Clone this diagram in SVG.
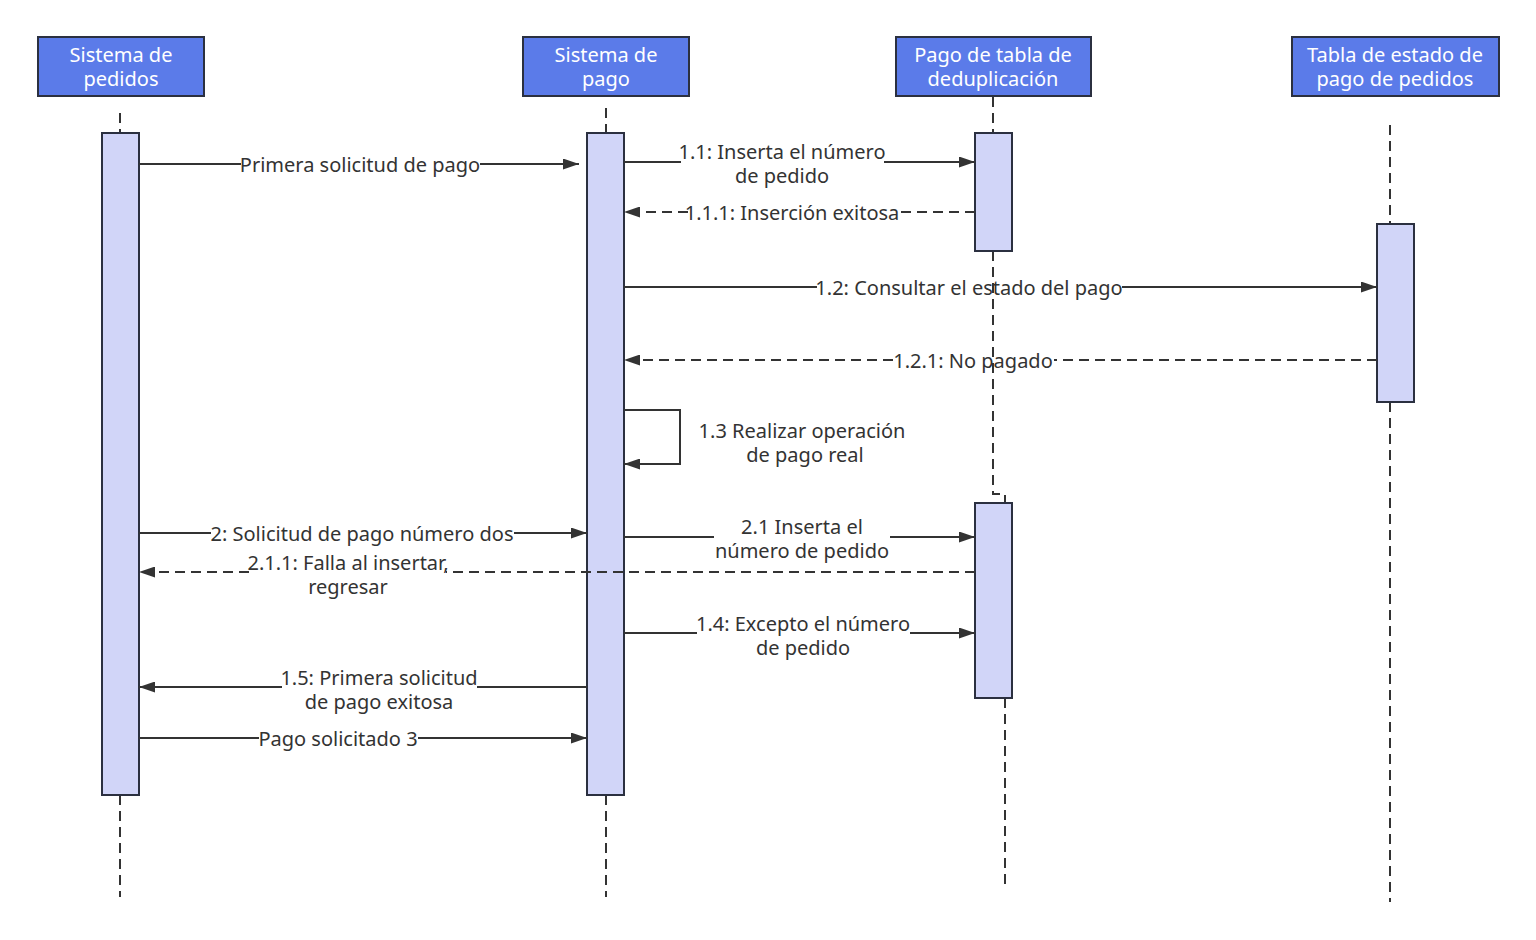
<svg xmlns="http://www.w3.org/2000/svg" width="1536" height="940" viewBox="0 0 1536 940">
<style>
.hdr{fill:#5b7be9;stroke:#2b3040;stroke-width:2}
.ht{fill:#ffffff;font-family:"Noto Sans","Liberation Sans",sans-serif;font-size:20px;text-anchor:middle}
.life{stroke:#333;stroke-width:2;stroke-dasharray:10,6;fill:none}
.act{fill:#d1d5f8;stroke:#2b3040;stroke-width:2}
.msg{stroke:#333;stroke-width:2;fill:none}
.ret{stroke:#333;stroke-width:2;fill:none;stroke-dasharray:10,6}
.lb{fill:#333;font-family:"Noto Sans","Liberation Sans",sans-serif;font-size:20px;text-anchor:middle}
</style>
<defs>
<marker id="ah" viewBox="0 0 16 11" refX="16" refY="5.5" markerWidth="16" markerHeight="11" markerUnits="userSpaceOnUse" orient="auto">
<path d="M0,0 L16,5.5 L0,11 Z" fill="#333"/>
</marker>
</defs>
<rect width="1536" height="940" fill="#ffffff"/>

<g id="pedidos">
<rect class="hdr" x="38" y="37" width="166" height="59"/>
<text class="ht" x="121" y="62">Sistema de</text>
<text class="ht" x="121" y="86">pedidos</text>
<line class="life" x1="120" y1="113" x2="120" y2="133"/>
<line class="life" x1="120" y1="795" x2="120" y2="897"/>
<rect class="act" x="102" y="133" width="37" height="662"/>
</g>

<g id="pago">
<rect class="hdr" x="523" y="37" width="166" height="59"/>
<text class="ht" x="606" y="62">Sistema de</text>
<text class="ht" x="606" y="86">pago</text>
<line class="life" x1="606" y1="108" x2="606" y2="133"/>
<line class="life" x1="606" y1="795" x2="606" y2="897"/>
<rect class="act" x="587" y="133" width="37" height="662"/>
</g>

<g id="dedup">
<rect class="hdr" x="896" y="37" width="195" height="59"/>
<text class="ht" x="993" y="62">Pago de tabla de</text>
<text class="ht" x="993" y="86">deduplicación</text>
<line class="life" x1="993" y1="97" x2="993" y2="133"/>
<polyline class="life" points="993,251 993,494 1005,494 1005,503"/>
<line class="life" x1="1005" y1="698" x2="1005" y2="890"/>
<rect class="act" x="975" y="133" width="37" height="118"/>
<rect class="act" x="975" y="503" width="37" height="195"/>
</g>

<g id="estado">
<rect class="hdr" x="1292" y="37" width="207" height="59"/>
<text class="ht" x="1395" y="62">Tabla de estado de</text>
<text class="ht" x="1395" y="86">pago de pedidos</text>
<line class="life" x1="1390" y1="125" x2="1390" y2="224"/>
<line class="life" x1="1390" y1="402" x2="1390" y2="902"/>
<rect class="act" x="1377" y="224" width="37" height="178"/>
</g>

<g id="connectors">
<line class="msg" x1="139" y1="164" x2="241" y2="164"/>
<line class="msg" x1="480" y1="164" x2="579" y2="164" marker-end="url(#ah)"/>

<line class="msg" x1="624" y1="162" x2="681" y2="162"/>
<line class="msg" x1="884" y1="162" x2="975" y2="162" marker-end="url(#ah)"/>

<line class="ret" x1="975" y1="212" x2="897" y2="212"/>
<line class="ret" x1="688" y1="212" x2="624" y2="212" marker-end="url(#ah)"/>

<line class="msg" x1="624" y1="287" x2="817" y2="287"/>
<line class="msg" x1="1122" y1="287" x2="1377" y2="287" marker-end="url(#ah)"/>

<line class="ret" x1="1377" y1="360" x2="1054" y2="360"/>
<line class="ret" x1="893" y1="360" x2="624" y2="360" marker-end="url(#ah)"/>

<polyline class="msg" points="624,410 680,410 680,464 624,464" marker-end="url(#ah)"/>

<line class="msg" x1="139" y1="533" x2="211" y2="533"/>
<line class="msg" x1="514" y1="533" x2="587" y2="533" marker-end="url(#ah)"/>

<line class="msg" x1="624" y1="537" x2="714" y2="537"/>
<line class="msg" x1="890" y1="537" x2="975" y2="537" marker-end="url(#ah)"/>

<line class="ret" x1="975" y1="572" x2="446" y2="572"/>
<line class="ret" x1="249" y1="572" x2="139" y2="572" marker-end="url(#ah)"/>

<line class="msg" x1="624" y1="633" x2="697" y2="633"/>
<line class="msg" x1="910" y1="633" x2="975" y2="633" marker-end="url(#ah)"/>

<line class="msg" x1="587" y1="687" x2="477" y2="687"/>
<line class="msg" x1="282" y1="687" x2="139" y2="687" marker-end="url(#ah)"/>

<line class="msg" x1="139" y1="738" x2="259" y2="738"/>
<line class="msg" x1="418" y1="738" x2="587" y2="738" marker-end="url(#ah)"/>
</g>

<g id="labels">
<text class="lb" x="360" y="172">Primera solicitud de pago</text>
<text class="lb" x="782" y="159">1.1: Inserta el número</text>
<text class="lb" x="782" y="183">de pedido</text>
<text class="lb" x="792" y="220">1.1.1: Inserción exitosa</text>
<text class="lb" x="969" y="295">1.2: Consultar el estado del pago</text>
<text class="lb" x="973" y="368">1.2.1: No pagado</text>
<text class="lb" x="802" y="438">1.3 Realizar operación</text>
<text class="lb" x="805" y="462">de pago real</text>
<text class="lb" x="362" y="541">2: Solicitud de pago número dos</text>
<text class="lb" x="802" y="534">2.1 Inserta el</text>
<text class="lb" x="802" y="558">número de pedido</text>
<text class="lb" x="348" y="570">2.1.1: Falla al insertar,</text>
<text class="lb" x="348" y="594">regresar</text>
<text class="lb" x="803" y="631">1.4: Excepto el número</text>
<text class="lb" x="803" y="655">de pedido</text>
<text class="lb" x="379" y="685">1.5: Primera solicitud</text>
<text class="lb" x="379" y="709">de pago exitosa</text>
<text class="lb" x="338" y="746">Pago solicitado 3</text>
</g>
</svg>
